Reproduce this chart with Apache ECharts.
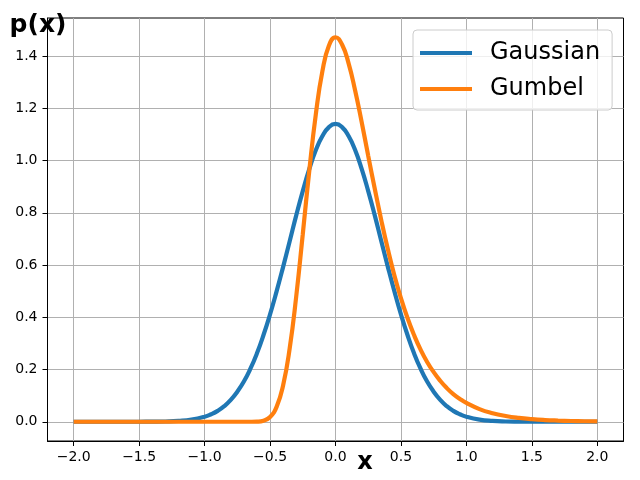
<!DOCTYPE html>
<html>
<head>
<meta charset="utf-8">
<script src="https://cdn.jsdelivr.net/npm/echarts@6/dist/echarts.min.js"></script>
<style>html,body{margin:0;padding:0;background:#fff;}#c{width:640px;height:480px;}</style>
</head>
<body>
<div id="c"></div>
<script>
const xs = [-2.0,-1.9,-1.8,-1.7,-1.6,-1.5,-1.4,-1.3,-1.2,-1.1,
  -1.0,-0.95,-0.9,-0.85,-0.8,-0.75,-0.7,-0.65,-0.6,-0.55,-0.5,-0.45,-0.4,-0.35,-0.3,-0.25,-0.2,-0.15,-0.1,-0.05,
  0,0.05,0.1,0.15,0.2,0.25,0.3,0.35,0.4,0.45,0.5,0.55,0.6,0.65,0.7,0.75,0.8,0.85,0.9,0.95,1.0,
  1.1,1.2,1.3,1.4,1.5,1.6,1.7,1.8,1.9,2.0];
const gaussian = [0,0,0,0,0,0.0001,0.0004,0.0011,0.0032,0.0082,
  0.0192,0.0287,0.0418,0.0597,0.0837,0.115,0.154,0.203,0.262,0.332,0.411,0.499,0.593,0.691,0.790,0.883,0.968,1.040,1.094,1.128,
  1.140,1.128,1.094,1.040,0.968,0.883,0.790,0.691,0.593,0.499,0.411,0.332,0.262,0.203,0.154,0.115,0.0837,0.0597,0.0418,0.0287,0.0192,
  0.0082,0.0032,0.0011,0.0004,0.0001,0,0,0,0,0];
const gumbel = [0,0,0,0,0,0,0,0,0,0,
  0,0,0,0,0,0,0,0.0001,0.0007,0.0043,0.018,0.057,0.140,0.281,0.480,0.718,0.962,1.178,1.342,1.440,
  1.472,1.444,1.372,1.268,1.147,1.018,0.892,0.771,0.660,0.560,0.473,0.397,0.332,0.276,0.229,0.190,0.157,0.129,0.106,0.0876,0.072,
  0.0485,0.0327,0.0220,0.0147,0.0099,0.0066,0.0045,0.0030,0.0020,0.0013];
const seriesNames = ['Gaussian','Gumbel'];
const xTicks = [-2.0,-1.5,-1.0,-0.5,0.0,0.5,1.0,1.5,2.0];
const yTicks = [0.0,0.2,0.4,0.6,0.8,1.0,1.2,1.4];
const xLabel = 'x';
const yLabel = 'p(x)';

const font = 'DejaVu Sans';
const fmt = v => Number(v).toFixed(1).replace('-', '\u2212');
const pairs = arr => xs.map((x, i) => [x, arr[i]]);

const chart = echarts.init(document.getElementById('c'), null, {renderer: 'canvas'});
chart.setOption({
  animation: false,
  backgroundColor: '#fff',
  grid: {left: 47.5, right: 16.5, top: 18, bottom: 39, show: true, borderColor: '#000', borderWidth: 1, backgroundColor: 'transparent'},
  xAxis: {
    type: 'value', min: -2.2, max: 2.2,
    axisLine: {show: true, onZero: false, lineStyle: {color: '#000', width: 1}},
    axisTick: {show: true, length: 5, lineStyle: {color: '#000', width: 1}, customValues: xTicks},
    axisLabel: {customValues: xTicks, formatter: fmt, color: '#000', fontFamily: font, fontSize: 14, margin: 9},
    splitLine: {show: true, lineStyle: {color: '#b0b0b0', width: 1}}
  },
  yAxis: {
    type: 'value', min: -0.0736, max: 1.5456,
    axisLine: {show: true, onZero: false, lineStyle: {color: '#000', width: 1}},
    axisTick: {show: true, length: 5, lineStyle: {color: '#000', width: 1}, customValues: yTicks},
    axisLabel: {customValues: yTicks, formatter: fmt, color: '#000', fontFamily: font, fontSize: 14, margin: 10},
    splitLine: {show: true, lineStyle: {color: '#b0b0b0', width: 1}}
  },
  legend: {
    orient: 'vertical', left: 413, top: 30,
    icon: 'rect', itemWidth: 52, itemHeight: 4, itemGap: 12,
    padding: [11, 12, 9, 7],
    backgroundColor: 'rgba(255,255,255,0.8)', borderColor: '#cccccc', borderWidth: 1, borderRadius: 4,
    textStyle: {fontFamily: font, fontSize: 24, color: '#000', lineHeight: 24, padding: [0, 0, 0, 13]},
    data: seriesNames
  },
  graphic: [
    {type: 'text', x: 38, y: 25, style: {text: yLabel, font: 'bold 25px "DejaVu Sans"', fill: '#000', textAlign: 'center', textVerticalAlign: 'middle'}},
    {type: 'text', x: 365, y: 463, style: {text: xLabel, font: 'bold 24px "DejaVu Sans"', fill: '#000', textAlign: 'center', textVerticalAlign: 'middle'}}
  ],
  series: [
    {name: seriesNames[0], type: 'line', data: pairs(gaussian), smooth: true, showSymbol: false, symbol: 'none',
     lineStyle: {color: '#1f77b4', width: 4.2}, itemStyle: {color: '#1f77b4'}, z: 3},
    {name: seriesNames[1], type: 'line', data: pairs(gumbel), smooth: true, showSymbol: false, symbol: 'none',
     lineStyle: {color: '#ff7f0e', width: 4.2}, itemStyle: {color: '#ff7f0e'}, z: 4}
  ]
});
</script>
</body>
</html>
